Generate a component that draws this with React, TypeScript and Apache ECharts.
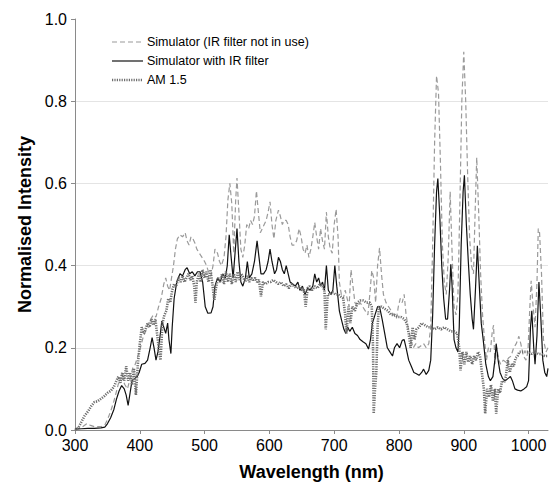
import React, { useEffect, useRef } from "react";
import * as echarts from "echarts";

const FONT = "'Liberation Sans', Arial, sans-serif";

const xTicks = { min: 300, max: 1030, step: 100 };
const yTicks = { min: 0, max: 1, step: 0.2 };

const seriesNames = [
  "Simulator (IR filter not in use)",
  "Simulator with IR filter",
  "AM 1.5",
];

// [wavelength nm, normalised intensity]
const simulatorNoFilter: number[][] = [
  [300,0.003],[310,0.006],[318,0.015],[323,0.012],[330,0.008],[340,0.008],[346,0.012],[350,0.025],[355,0.045],[360,0.07],
  [365,0.1],[369,0.125],[373,0.125],[377,0.11],[381,0.1],[385,0.125],[389,0.15],[393,0.16],[397,0.18],[401,0.2],
  [405,0.225],[409,0.24],[413,0.26],[417,0.27],[421,0.28],[425,0.275],[429,0.3],[433,0.32],[437,0.355],[440,0.37],
  [443,0.35],[446,0.34],[449,0.37],[452,0.4],[455,0.44],[458,0.465],[462,0.475],[466,0.47],[470,0.48],[473,0.46],
  [476,0.45],[479,0.47],[482,0.465],[485,0.455],[488,0.44],[492,0.43],[496,0.42],[500,0.41],[503,0.4],[507,0.38],
  [510,0.375],[513,0.4],[516,0.44],[520,0.43],[523,0.41],[526,0.4],[530,0.42],[533,0.47],[536,0.56],[539,0.6],
  [542,0.55],[545,0.43],[548,0.56],[550,0.613],[553,0.53],[556,0.44],[559,0.42],[562,0.45],[565,0.5],[568,0.49],
  [571,0.51],[574,0.5],[577,0.52],[580,0.582],[583,0.53],[586,0.48],[589,0.49],[592,0.5],[595,0.51],[598,0.53],
  [601,0.555],[604,0.5],[607,0.465],[610,0.51],[614,0.535],[617,0.52],[620,0.5],[623,0.51],[626,0.51],[629,0.5],
  [632,0.47],[635,0.45],[638,0.45],[642,0.46],[646,0.49],[649,0.47],[652,0.44],[655,0.43],[658,0.45],[661,0.42],
  [664,0.44],[667,0.47],[670,0.505],[673,0.47],[676,0.44],[679,0.49],[682,0.46],[685,0.44],[688,0.53],[691,0.47],
  [694,0.44],[697,0.43],[700,0.5],[703,0.537],[706,0.47],[708,0.36],[711,0.33],[714,0.32],[717,0.34],[720,0.32],
  [723,0.3],[726,0.39],[729,0.35],[732,0.31],[736,0.3],[740,0.31],[744,0.3],[748,0.29],[752,0.28],[755,0.33],
  [758,0.388],[761,0.37],[764,0.31],[767,0.4],[770,0.443],[773,0.38],[776,0.33],[780,0.31],[784,0.3],[788,0.29],
  [792,0.28],[796,0.27],[799,0.3],[802,0.32],[805,0.31],[808,0.33],[811,0.28],[814,0.25],[818,0.22],[822,0.2],
  [826,0.21],[830,0.2],[834,0.205],[838,0.21],[842,0.2],[846,0.21],[849,0.25],[852,0.45],[855,0.7],[858,0.862],
  [861,0.82],[864,0.65],[867,0.45],[870,0.36],[873,0.33],[876,0.42],[879,0.58],[882,0.43],[885,0.3],[888,0.28],
  [891,0.33],[894,0.55],[897,0.8],[900,0.92],[903,0.8],[906,0.62],[909,0.47],[912,0.4],[915,0.38],[917,0.5],
  [920,0.663],[923,0.53],[926,0.38],[929,0.28],[932,0.22],[935,0.17],[938,0.2],[941,0.19],[944,0.24],[946,0.255],
  [948,0.16],[951,0.2],[954,0.17],[957,0.16],[961,0.17],[965,0.165],[969,0.175],[973,0.18],[977,0.2],[981,0.21],
  [985,0.228],[988,0.21],[992,0.18],[996,0.17],[999,0.19],[1002,0.3],[1004,0.363],[1007,0.3],[1010,0.25],[1013,0.36],
  [1015,0.49],[1017,0.48],[1020,0.38],[1023,0.22],[1027,0.19],[1030,0.2],
];

const simulatorWithFilter: number[][] = [
  [300,0.002],[310,0.003],[320,0.004],[330,0.004],[340,0.005],[346,0.007],[350,0.015],[355,0.03],[360,0.05],[364,0.075],
  [368,0.095],[372,0.108],[376,0.1],[379,0.085],[382,0.06],[385,0.09],[388,0.12],[392,0.125],[396,0.13],[399,0.14],
  [403,0.16],[408,0.162],[412,0.17],[416,0.2],[419,0.225],[422,0.2],[425,0.17],[428,0.19],[431,0.225],[434,0.265],
  [437,0.25],[440,0.235],[443,0.26],[445,0.22],[448,0.186],[450,0.25],[453,0.32],[457,0.36],[462,0.38],[466,0.375],
  [470,0.39],[473,0.395],[477,0.38],[481,0.385],[485,0.375],[489,0.385],[493,0.385],[497,0.36],[501,0.3],[505,0.284],
  [510,0.285],[513,0.3],[516,0.35],[520,0.37],[524,0.36],[528,0.38],[532,0.37],[535,0.4],[538,0.475],[541,0.42],
  [544,0.37],[547,0.43],[550,0.49],[553,0.41],[556,0.36],[559,0.35],[563,0.37],[566,0.41],[569,0.37],[573,0.38],
  [577,0.41],[581,0.46],[584,0.42],[587,0.38],[591,0.38],[595,0.39],[598,0.41],[601,0.44],[604,0.41],[608,0.38],
  [611,0.39],[614,0.42],[617,0.41],[620,0.39],[623,0.38],[626,0.4],[629,0.38],[632,0.36],[636,0.355],[640,0.35],
  [644,0.36],[647,0.34],[651,0.35],[655,0.33],[659,0.345],[663,0.34],[667,0.35],[670,0.38],[673,0.36],[676,0.37],
  [679,0.35],[682,0.36],[685,0.34],[688,0.4],[691,0.34],[695,0.33],[698,0.34],[701,0.4],[704,0.35],[708,0.29],
  [711,0.27],[715,0.245],[718,0.235],[721,0.25],[724,0.24],[728,0.25],[732,0.235],[736,0.23],[740,0.22],[745,0.214],
  [749,0.21],[753,0.197],[756,0.22],[759,0.26],[763,0.28],[767,0.3],[770,0.3],[774,0.27],[778,0.235],[782,0.2],
  [786,0.19],[790,0.18],[793,0.2],[797,0.21],[801,0.2],[805,0.218],[808,0.22],[811,0.2],[815,0.17],[819,0.155],
  [823,0.14],[827,0.137],[831,0.133],[835,0.14],[838,0.148],[842,0.135],[846,0.145],[849,0.17],[852,0.28],[855,0.45],
  [858,0.58],[860,0.612],[863,0.52],[866,0.4],[869,0.32],[872,0.27],[875,0.27],[878,0.34],[880,0.403],[882,0.35],
  [885,0.22],[888,0.2],[891,0.19],[893,0.25],[896,0.45],[899,0.58],[901,0.62],[904,0.5],[907,0.41],[910,0.33],
  [913,0.27],[915,0.245],[918,0.34],[921,0.448],[924,0.35],[927,0.26],[930,0.22],[934,0.16],[938,0.13],[941,0.12],
  [945,0.13],[948,0.17],[950,0.21],[953,0.17],[956,0.14],[960,0.125],[964,0.12],[968,0.125],[972,0.13],[975,0.12],
  [979,0.1],[983,0.097],[988,0.095],[993,0.1],[997,0.105],[1000,0.12],[1003,0.25],[1005,0.29],[1008,0.2],[1010,0.16],
  [1013,0.23],[1016,0.36],[1019,0.27],[1022,0.17],[1025,0.14],[1028,0.13],[1030,0.15],
];

const am15: number[][] = [
  [300,0.0],[305,0.005],[310,0.02],[315,0.035],[320,0.045],[325,0.058],[330,0.068],[335,0.07],[340,0.076],[345,0.082],
  [350,0.09],[355,0.095],[360,0.105],[364,0.12],[367,0.13],[370,0.115],[373,0.14],[376,0.12],[379,0.155],[382,0.12],
  [385,0.14],[388,0.11],[391,0.15],[394,0.085],[397,0.16],[400,0.21],[403,0.25],[406,0.235],[409,0.245],[412,0.26],
  [415,0.25],[418,0.27],[421,0.255],[424,0.27],[427,0.23],[430,0.19],[432,0.17],[435,0.26],[438,0.28],[441,0.29],
  [444,0.32],[447,0.31],[450,0.34],[453,0.355],[456,0.35],[460,0.37],[463,0.36],[466,0.375],[469,0.36],[472,0.37],
  [475,0.38],[478,0.365],[481,0.375],[484,0.35],[486,0.31],[488,0.36],[491,0.38],[494,0.36],[497,0.39],[500,0.37],
  [503,0.385],[506,0.36],[509,0.39],[512,0.355],[515,0.315],[518,0.35],[521,0.37],[524,0.36],[527,0.38],[530,0.355],
  [533,0.385],[536,0.36],[539,0.38],[542,0.355],[545,0.38],[548,0.36],[551,0.385],[554,0.365],[557,0.38],[560,0.37],
  [563,0.36],[566,0.375],[569,0.36],[572,0.37],[575,0.365],[578,0.37],[581,0.36],[584,0.365],[587,0.325],[590,0.36],
  [594,0.355],[598,0.36],[602,0.36],[606,0.365],[610,0.36],[614,0.355],[618,0.36],[622,0.35],[626,0.355],[630,0.345],
  [634,0.355],[638,0.35],[642,0.345],[646,0.35],[650,0.34],[653,0.345],[656,0.3],[659,0.345],[662,0.35],[666,0.34],
  [670,0.35],[674,0.345],[678,0.355],[682,0.35],[685,0.34],[687,0.245],[690,0.33],[694,0.33],[698,0.335],[702,0.33],
  [706,0.33],[710,0.325],[714,0.32],[717,0.28],[719,0.235],[722,0.3],[725,0.26],[728,0.3],[732,0.29],[736,0.31],
  [740,0.315],[745,0.315],[750,0.31],[755,0.31],[758,0.3],[760,0.2],[761,0.04],[763,0.1],[765,0.14],[767,0.25],
  [769,0.3],[773,0.3],[778,0.295],[783,0.29],[788,0.28],[793,0.28],[798,0.275],[803,0.275],[808,0.27],[812,0.26],
  [815,0.235],[818,0.2],[821,0.25],[824,0.22],[827,0.245],[831,0.25],[835,0.26],[840,0.255],[845,0.25],[850,0.25],
  [855,0.245],[860,0.25],[865,0.245],[870,0.25],[875,0.245],[880,0.24],[885,0.24],[890,0.235],[893,0.2],[895,0.145],
  [898,0.19],[901,0.16],[904,0.19],[907,0.165],[910,0.18],[913,0.16],[916,0.18],[919,0.17],[922,0.19],[925,0.18],
  [928,0.14],[931,0.1],[933,0.04],[936,0.1],[939,0.08],[942,0.11],[945,0.07],[948,0.1],[950,0.04],[953,0.1],
  [956,0.09],[959,0.12],[962,0.115],[965,0.13],[968,0.17],[971,0.14],[974,0.16],[977,0.155],[980,0.175],[983,0.18],
  [986,0.19],[990,0.19],[995,0.19],[1000,0.19],[1005,0.185],[1010,0.19],[1015,0.185],[1020,0.185],[1025,0.18],[1030,0.18],
];

const lineStyles = [
  { color: "#9a9a9a", width: 1.2, type: [5, 3] as number[] },
  { color: "#111111", width: 1.2, type: "solid" as any },
  { color: "#6e6e6e", width: 2.6, type: [1.2, 1.2] as number[] },
];

export default function App() {
  const ref = useRef<HTMLDivElement>(null);

  useEffect(() => {
    if (!ref.current) return;
    const chart = echarts.init(ref.current, undefined, { renderer: "svg" });
    const datasets = [simulatorNoFilter, simulatorWithFilter, am15];

    const legendX0 = 112;
    const legendX1 = 143;
    const legendRows = [42, 61, 80];
    const legendGraphics: any[] = [];
    seriesNames.forEach((name, i) => {
      legendGraphics.push({
        type: "line",
        shape: { x1: legendX0, y1: legendRows[i], x2: legendX1, y2: legendRows[i] },
        style: {
          stroke: lineStyles[i].color,
          lineWidth: lineStyles[i].width,
          lineDash: Array.isArray(lineStyles[i].type) ? lineStyles[i].type : null,
        },
        z: 100,
      });
      legendGraphics.push({
        type: "text",
        x: 147,
        y: legendRows[i],
        style: {
          text: name,
          font: `12.5px ${FONT}`,
          fill: "#000",
          textVerticalAlign: "middle",
          verticalAlign: "middle",
        },
        z: 100,
      });
    });

    chart.setOption({
      animation: false,
      backgroundColor: "#fff",
      grid: { left: 75, right: 3, top: 19, bottom: 52, containLabel: false },
      xAxis: {
        type: "value",
        min: xTicks.min,
        max: xTicks.max,
        interval: xTicks.step,
        name: "Wavelength (nm)",
        nameLocation: "middle",
        nameGap: 33,
        nameTextStyle: { fontFamily: FONT, fontSize: 18, fontWeight: "bold", color: "#000" },
        axisLine: { show: true, lineStyle: { color: "#8a8a8a", width: 1 } },
        axisTick: { show: true, length: 4, lineStyle: { color: "#8a8a8a" } },
        axisLabel: {
          fontFamily: FONT,
          fontSize: 16,
          color: "#000",
          margin: 7,
          showMaxLabel: false,
          formatter: (v: number) => String(Math.round(v)),
        },
        splitLine: { show: false },
      },
      yAxis: {
        type: "value",
        min: yTicks.min,
        max: yTicks.max,
        interval: yTicks.step,
        name: "Normalised Intensity",
        nameLocation: "middle",
        nameGap: 41,
        nameTextStyle: { fontFamily: FONT, fontSize: 18, fontWeight: "bold", color: "#000" },
        axisLine: { show: true, lineStyle: { color: "#8a8a8a", width: 1 } },
        axisTick: { show: true, length: 4, lineStyle: { color: "#8a8a8a" } },
        axisLabel: {
          fontFamily: FONT,
          fontSize: 16,
          color: "#000",
          margin: 8,
          formatter: (v: number) => v.toFixed(1),
        },
        splitLine: { show: true, showMinLine: false, showMaxLine: false, lineStyle: { color: "#e4e4e4", width: 1 } },
      },
      series: datasets.map((d, i) => ({
        name: seriesNames[i],
        type: "line",
        data: d,
        symbol: "none",
        smooth: false,
        lineStyle: lineStyles[i],
        z: 2 + i,
      })),
      graphic: legendGraphics,
    });

    return () => chart.dispose();
  }, []);

  return (
    <div
      ref={ref}
      style={{ position: "fixed", left: 0, top: 0, width: 551, height: 486, background: "#fff" }}
    />
  );
}
